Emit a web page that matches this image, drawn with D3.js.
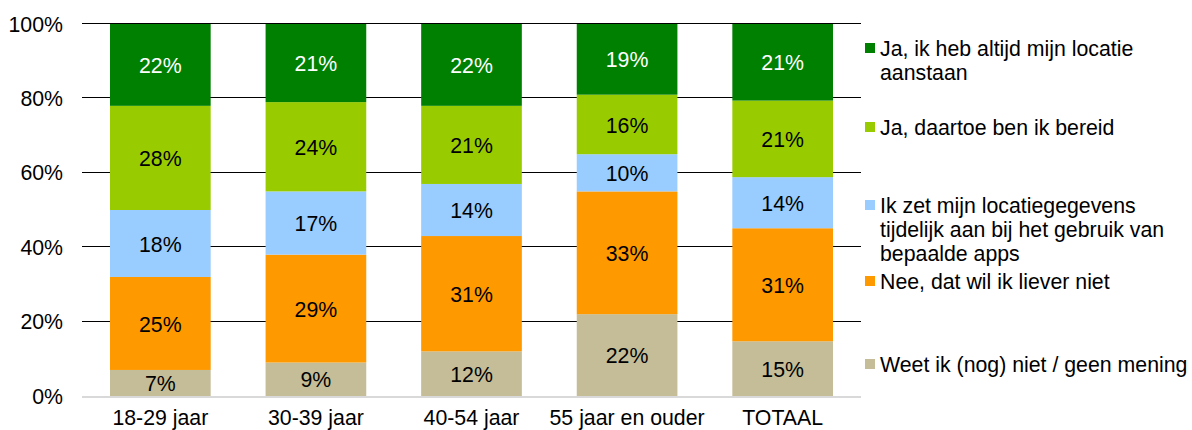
<!DOCTYPE html>
<html>
<head>
<meta charset="utf-8">
<script src="https://cdn.jsdelivr.net/npm/d3@7"></script>
<style>
  html, body { margin: 0; padding: 0; background: #fff; }
  svg { display: block; font-family: "Liberation Sans", Arial, sans-serif; }
</style>
</head>
<body>
<svg id="chart" width="1192" height="430"></svg>
<script>
// Age groups along the x axis
const categories = ["18-29 jaar", "30-39 jaar", "40-54 jaar", "55 jaar en ouder", "TOTAAL"];

// Answer shares per age group (percent), stacked bottom to top
const weetNiet  = [7, 9, 12, 22, 15];
const nee       = [25, 29, 31, 33, 31];
const tijdelijk = [18, 17, 14, 10, 14];
const bereid    = [28, 24, 21, 16, 21];
const altijd    = [22, 21, 22, 19, 21];

// Series names (stack order, bottom to top)
const seriesKeys = ["weetNiet", "nee", "tijdelijk", "bereid", "altijd"];
const seriesLabels = [
  ["Weet ik (nog) niet / geen mening"],
  ["Nee, dat wil ik liever niet"],
  ["Ik zet mijn locatiegegevens", "tijdelijk aan bij het gebruik van", "bepaalde apps"],
  ["Ja, daartoe ben ik bereid"],
  ["Ja, ik heb altijd mijn locatie", "aanstaan"]
];
const seriesColors = ["#C4BD97", "#FF9900", "#99CCFF", "#99CC00", "#008000"];
const labelColors  = ["#000", "#000", "#000", "#000", "#fff"];

// Y axis tick values (fraction of total)
const yTicks = [0, 0.2, 0.4, 0.6, 0.8, 1.0];

// Build the table the stack layout reads
const rows = categories.map((c, i) => ({
  cat: c,
  weetNiet: weetNiet[i],
  nee: nee[i],
  tijdelijk: tijdelijk[i],
  bereid: bereid[i],
  altijd: altijd[i]
}));

const svg = d3.select("#chart");
const FONT = 21.3;

const plot = { left: 82, right: 861, top: 24, bottom: 396 };

const x = d3.scaleBand()
  .domain(categories)
  .range([plot.left, plot.right])
  .paddingInner(0.353)
  .paddingOuter(0.18);

const y = d3.scaleLinear()
  .domain([0, 1])
  .range([plot.bottom, plot.top]);

// Each column is normalised to 100%
const stacked = d3.stack()
  .keys(seriesKeys)
  .offset(d3.stackOffsetExpand)(rows);

// Horizontal gridlines (behind the bars)
svg.append("g")
  .selectAll("line")
  .data(yTicks.filter(t => t > 0))
  .join("line")
  .attr("x1", plot.left)
  .attr("x2", plot.right)
  .attr("y1", d => Math.round(y(d)) - 0.5)
  .attr("y2", d => Math.round(y(d)) - 0.5)
  .attr("stroke", "#000")
  .attr("stroke-width", 1.2);

// Y axis tick labels
const yAxis = d3.axisLeft(y)
  .tickValues(yTicks)
  .tickFormat(d3.format(".0%"))
  .tickSize(0)
  .tickPadding(0);

svg.append("g")
  .attr("transform", `translate(${plot.left - 19},0)`)
  .call(yAxis)
  .call(g => g.select(".domain").remove())
  .call(g => g.selectAll("text")
    .attr("font-size", FONT)
    .attr("font-family", "'Liberation Sans', Arial, sans-serif")
    .attr("fill", "#000")
    .attr("dy", "0.33em"));

// Stacked bars
const layers = svg.append("g")
  .selectAll("g")
  .data(stacked)
  .join("g")
  .attr("fill", (d, i) => seriesColors[i]);

layers.selectAll("rect")
  .data(d => d)
  .join("rect")
  .attr("x", d => x(d.data.cat))
  .attr("width", x.bandwidth())
  .attr("y", d => y(d[1]))
  .attr("height", d => y(d[0]) - y(d[1]));

// Value labels centred in each segment
const valueLabels = svg.append("g");
stacked.forEach((layer, si) => {
  valueLabels.selectAll(null)
    .data(layer)
    .join("text")
    .attr("x", d => x(d.data.cat) + x.bandwidth() / 2)
    .attr("y", d => (y(d[0]) + y(d[1])) / 2)
    .attr("dy", "0.38em")
    .attr("text-anchor", "middle")
    .attr("font-size", FONT)
    .attr("fill", labelColors[si])
    .text(d => d.data[layer.key] + "%");
});

// X axis baseline and category labels
svg.append("line")
  .attr("x1", plot.left)
  .attr("x2", plot.right)
  .attr("y1", plot.bottom + 1)
  .attr("y2", plot.bottom + 1)
  .attr("stroke", "#D9D9D9")
  .attr("stroke-width", 2);

const xAxis = d3.axisBottom(x).tickSize(0).tickPadding(0);
svg.append("g")
  .attr("transform", `translate(0,${plot.bottom})`)
  .call(xAxis)
  .call(g => g.select(".domain").remove())
  .call(g => g.selectAll("text")
    .attr("font-size", FONT)
    .attr("font-family", "'Liberation Sans', Arial, sans-serif")
    .attr("fill", "#000")
    .attr("dy", null)
    .attr("y", 29));

// Legend, listed top to bottom (reverse stack order)
const legendBaselines = [56, 135, 213, 289, 372];
const lineHeight = 24;
const legendOrder = d3.range(seriesKeys.length).reverse();
const legend = svg.append("g");
legendOrder.forEach((si, li) => {
  const base = legendBaselines[li];
  legend.append("rect")
    .attr("x", 865)
    .attr("y", base - 13)
    .attr("width", 10)
    .attr("height", 10)
    .attr("fill", seriesColors[si]);
  const t = legend.append("text")
    .attr("x", 880)
    .attr("y", base)
    .attr("font-size", FONT)
    .attr("fill", "#000");
  seriesLabels[si].forEach((line, k) => {
    t.append("tspan")
      .attr("x", 880)
      .attr("y", base + k * lineHeight)
      .text(line);
  });
});
</script>
</body>
</html>
